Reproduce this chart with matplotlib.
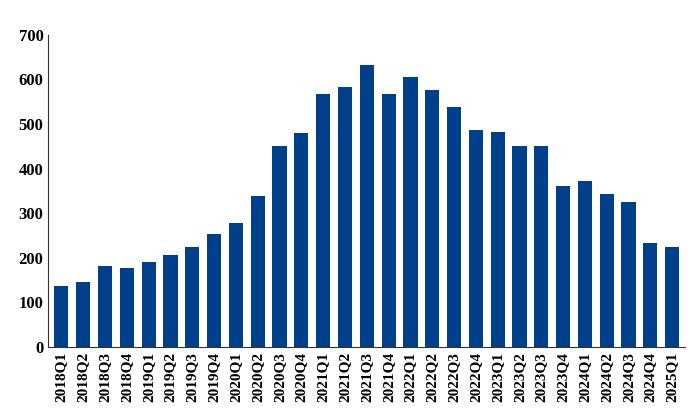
import matplotlib
matplotlib.use('Agg')
import matplotlib.pyplot as plt

quarters = ['2018Q1', '2018Q2', '2018Q3', '2018Q4', '2019Q1', '2019Q2', '2019Q3', '2019Q4',
            '2020Q1', '2020Q2', '2020Q3', '2020Q4', '2021Q1', '2021Q2', '2021Q3', '2021Q4',
            '2022Q1', '2022Q2', '2022Q3', '2022Q4', '2023Q1', '2023Q2', '2023Q3', '2023Q4',
            '2024Q1', '2024Q2', '2024Q3', '2024Q4', '2025Q1']
values = [137, 146, 182, 177, 190, 206, 224, 253, 279, 338, 451, 480, 568, 584, 633, 567,
          606, 577, 539, 486, 482, 451, 450, 361, 372, 344, 326, 234, 225]

plt.rcParams['font.family'] = ['Liberation Serif', 'DejaVu Serif']
plt.rcParams['font.weight'] = 'bold'

fig = plt.figure(figsize=(7, 4.2), dpi=100)
ax = fig.add_axes([0.069, 0.174, 0.91, 0.743])
ax.bar(range(len(values)), values, width=0.65, color='#003f8a')
ax.set_xlim(-0.6, len(values) - 0.4)
ax.set_ylim(0, 700)
ax.set_yticks(range(0, 701, 100))
ax.set_xticks(range(len(values)))
ax.set_xticklabels(quarters, rotation=90, fontsize=11, fontweight='bold')
ax.tick_params(axis='y', labelsize=12, length=0)
ax.tick_params(axis='x', length=0)
for lbl in ax.get_yticklabels():
    lbl.set_fontweight('bold')
ax.spines['top'].set_visible(False)
ax.spines['right'].set_visible(False)
ax.spines['left'].set_color('#333333')
ax.spines['bottom'].set_color('#333333')

fig.savefig('out.png', dpi=100)
